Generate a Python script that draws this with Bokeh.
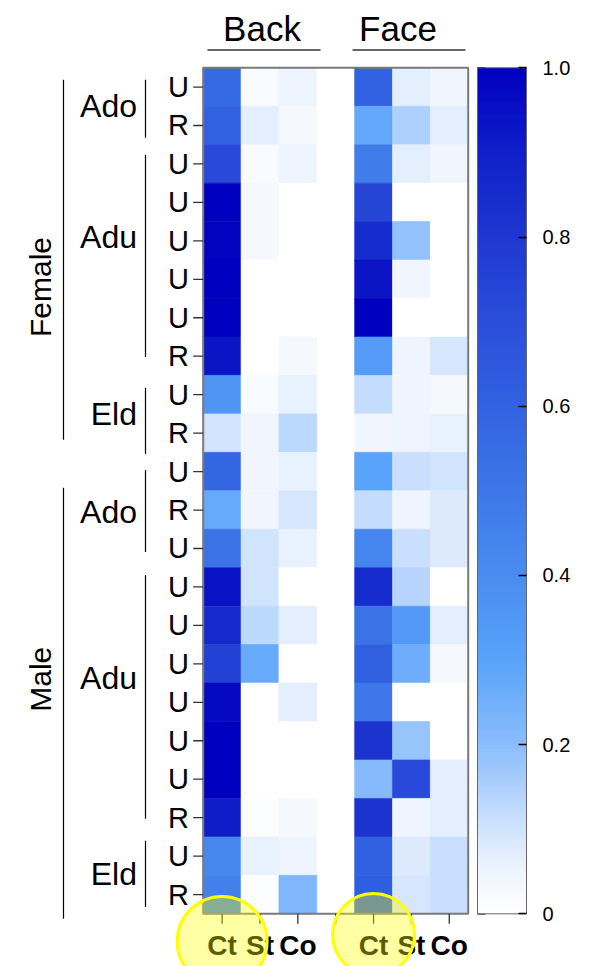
import numpy as np
from bokeh.plotting import figure
from bokeh.models import (Range1d, ColumnDataSource, LinearColorMapper, ColorBar,
                          FixedTicker, CustomJSTickFormatter)
from bokeh.transform import linear_cmap
from bokeh.core.properties import value
from bokeh.embed import file_html
from bokeh.resources import INLINE

# ---- data -------------------------------------------------------------
sex = ["Female"] * 10 + ["Male"] * 12
age = (["Ado"] * 2 + ["Adu"] * 6 + ["Eld"] * 2 +
       ["Ado"] * 3 + ["Adu"] * 7 + ["Eld"] * 2)
area = ["U", "R", "U", "U", "U", "U", "U", "R", "U", "R",
        "U", "R", "U", "U", "U", "U", "U", "U", "U", "R", "U", "R"]
regions = ["Back", "Face"]
measures = ["Ct", "St", "Co"]

back_ct = [0.56, 0.60, 0.72, 1.00, 0.99, 1.00, 1.00, 0.93, 0.36, 0.10,
           0.58, 0.27, 0.52, 0.94, 0.86, 0.76, 0.97, 1.00, 1.00, 0.91, 0.42, 0.46]
back_st = [0.02, 0.07, 0.02, 0.03, 0.03, 0.00, 0.00, 0.00, 0.02, 0.04,
           0.04, 0.04, 0.10, 0.10, 0.13, 0.27, 0.00, 0.00, 0.00, 0.01, 0.06, 0.01]
back_co = [0.05, 0.03, 0.05, 0.00, 0.00, 0.00, 0.00, 0.03, 0.06, 0.13,
           0.06, 0.09, 0.06, 0.00, 0.07, 0.00, 0.07, 0.00, 0.00, 0.03, 0.05, 0.22]
face_ct = [0.60, 0.28, 0.47, 0.74, 0.85, 0.93, 1.00, 0.33, 0.12, 0.04,
           0.30, 0.12, 0.43, 0.85, 0.52, 0.61, 0.50, 0.82, 0.21, 0.82, 0.61, 0.62]
face_st = [0.07, 0.15, 0.07, 0.00, 0.19, 0.04, 0.00, 0.05, 0.05, 0.05,
           0.11, 0.05, 0.11, 0.14, 0.34, 0.26, 0.00, 0.18, 0.72, 0.05, 0.08, 0.09]
face_co = [0.04, 0.07, 0.04, 0.00, 0.00, 0.00, 0.00, 0.09, 0.03, 0.06,
           0.10, 0.08, 0.08, 0.00, 0.07, 0.03, 0.00, 0.00, 0.07, 0.07, 0.11, 0.11]

columns = [back_ct, back_st, back_co, face_ct, face_st, face_co]
col_slots = [0, 1, 2, 4, 5, 6]          # slot 3 is the gap between Back and Face

# ---- colour scale -----------------------------------------------------
stop_pos = [0.0, 0.05, 0.1, 0.2, 0.3, 0.4, 0.5, 0.6, 0.7, 0.8, 0.9, 1.0]
stop_col = ["#ffffff", "#edf4fe", "#d0e3fd", "#8abcfc", "#58a3fa", "#4a8cf0",
            "#3d77e8", "#3262e1", "#2a4edb", "#1f38d1", "#1020c9", "#0000c0"]


def _rgb(h):
    return [int(h[i:i + 2], 16) for i in (1, 3, 5)]


_ch = np.array([_rgb(c) for c in stop_col], dtype=float)
_t = np.linspace(0, 1, 256)
palette = ["#%02x%02x%02x" % tuple(int(round(np.interp(t, stop_pos, _ch[:, k])))
                                  for k in range(3)) for t in _t]

# ---- pixel layout ------------------------------------------------------
W, H = 590, 966
HM_L, HM_R, HM_T, HM_B = 202.7, 467.7, 67.3, 913.3
n_rows = len(area)
n_slots = 7
CW = (HM_R - HM_L) / n_slots
RH = (HM_B - HM_T) / n_rows


def px_x(px):
    return (px - HM_L) / CW


def px_y(px):
    return (px - HM_T) / RH


p = figure(width=W, height=H, output_backend="svg", toolbar_location=None, tools="",
           x_range=Range1d(px_x(0), px_x(W)), y_range=Range1d(px_y(H), px_y(0)),
           x_axis_location=None, y_axis_location=None,
           min_border=0, outline_line_color=None,
           background_fill_color="white", border_fill_color="white")
p.grid.visible = False

FONT = value("Liberation Sans")

# ---- heatmap cells ----------------------------------------------------
xs, ys, vs = [], [], []
for slot, vals in zip(col_slots, columns):
    for r, v in enumerate(vals):
        xs.append(slot + 0.5)
        ys.append(r + 0.5)
        vs.append(v)
src = ColumnDataSource(dict(x=xs, y=ys, v=vs))
cmap = linear_cmap("v", palette, 0, 1)
p.rect(x="x", y="y", width=1, height=1, source=src,
       fill_color=cmap, line_color=cmap, line_width=0.6)

# frame around the heatmap
p.rect(x=n_slots / 2, y=n_rows / 2, width=n_slots, height=n_rows,
       fill_color=None, line_color="#7a7a7a", line_width=2)

# ---- row axis (U / R) ---------------------------------------------------
row_c = [r + 0.5 for r in range(n_rows)]
tick_len = 10 / CW
p.segment(x0=[-tick_len] * n_rows, y0=row_c, x1=[0] * n_rows, y1=row_c,
          line_color="#333333", line_width=1.3)
p.text(x=[px_x(188.5)] * n_rows, y=row_c, text=area, text_align="right",
       text_baseline="middle", text_font=FONT, text_font_size="29px",
       text_color="black")

# ---- age-group brackets and labels -------------------------------------
groups = []
start = 0
for r in range(1, n_rows + 1):
    if r == n_rows or age[r] != age[start] or sex[r] != sex[start]:
        groups.append((age[start], start, r))
        start = r
# bracket extents and label heights inside each group (in row units)
bracket_inset = [(0.31, 0.18), (0.26, 0.48), (0.32, -0.04),
                 (0.46, 0.41), (0.19, 0.47), (0.10, 0.18)]
label_shift = [0.0, -0.6, 0.0, 0.05, -0.64, -0.04]
bx = px_x(145)
for (name, a, b), (it, ib), sh in zip(groups, bracket_inset, label_shift):
    p.segment(x0=bx, y0=a + it, x1=bx, y1=b - ib, line_color="black", line_width=1.2)
    p.text(x=[px_x(136.5)], y=[(a + b) / 2 + sh], text=[name], text_align="right",
           text_baseline="middle", text_font=FONT, text_font_size="32px",
           text_color="black")

# ---- sex brackets and rotated labels -----------------------------------
sex_groups = []
start = 0
for r in range(1, n_rows + 1):
    if r == n_rows or sex[r] != sex[start]:
        sex_groups.append((sex[start], start, r))
        start = r
sex_extent = [(0.31, 0.33), (0.92, -0.13)]
sex_shift = [0.7, -0.1]
sx = px_x(63)
for (name, a, b), (it, ib), sh in zip(sex_groups, sex_extent, sex_shift):
    p.segment(x0=sx, y0=a + it, x1=sx, y1=b - ib, line_color="black", line_width=1.2)
    p.text(x=[px_x(40)], y=[(a + b) / 2 + sh], text=[name],
           angle=np.pi / 2, text_align="center", text_baseline="middle",
           text_font=FONT, text_font_size="30px", text_color="black")

# ---- region titles with underline ---------------------------------------
title_x = [px_x(261.5), px_x(397.5)]
under = [(px_x(207), px_x(320)), (px_x(352), px_x(465))]
for name, tx, (u0, u1) in zip(regions, title_x, under):
    p.text(x=[tx], y=[px_y(28)], text=[name], text_align="center",
           text_baseline="middle", text_font=FONT, text_font_size="35px",
           text_color="black")
    p.segment(x0=u0, y0=px_y(49.5), x1=u1, y1=px_y(49.5),
              line_color="#666666", line_width=2)

# ---- column axis (Ct / St / Co) -----------------------------------------
slot_c = [s + 0.5 for s in range(n_slots)]
p.segment(x0=slot_c, y0=[n_rows] * n_slots, x1=slot_c, y1=[n_rows + 10 / RH] * n_slots,
          line_color="#333333", line_width=1.3)
p.text(x=[s + 0.5 for s in col_slots], y=[px_y(945)] * len(col_slots),
       text=measures * len(regions), text_align="center", text_baseline="middle",
       text_font=FONT, text_font_size="28px", text_font_style="bold",
       text_color="black")

# ---- highlight circles on the Ct columns --------------------------------
p.scatter(x=[0.5, 4.5], y=[px_y(941), px_y(934)], size=[90, 82], marker="circle",
          fill_color="#ffff00", fill_alpha=0.36, line_color="#ffff00", line_width=3)

# ---- colour bar ---------------------------------------------------------
mapper = LinearColorMapper(palette=palette, low=0, high=1)
cb_ticks = [0, 0.2, 0.4, 0.6, 0.8, 1.0]
CB_L, CB_R = 477, 526
color_bar = ColorBar(color_mapper=mapper, width=CB_R - CB_L, height=int(round(HM_B - HM_T)),
                     location=(CB_L, H - HM_B), padding=0,
                     ticker=FixedTicker(ticks=cb_ticks),
                     formatter=CustomJSTickFormatter(code="return tick === 0 ? '0' : tick.toFixed(1);"),
                     major_label_text_font="Liberation Sans", major_label_text_font_size="20px",
                     major_label_text_color="black", label_standoff=16,
                     major_tick_line_color="black", major_tick_line_width=1.5,
                     major_tick_in=8, major_tick_out=0, minor_tick_line_color=None,
                     bar_line_color="#666666", bar_line_width=1,
                     border_line_color=None, background_fill_alpha=0)
p.add_layout(color_bar)

# inner ticks on the left edge of the colour bar
cb_y = [n_rows * (1 - t) for t in cb_ticks]
p.segment(x0=[px_x(CB_L)] * len(cb_ticks), y0=cb_y, x1=[px_x(CB_L + 8)] * len(cb_ticks),
          y1=cb_y, line_color="black", line_width=1.5)

open("out.html", "w").write(file_html(p, INLINE))
